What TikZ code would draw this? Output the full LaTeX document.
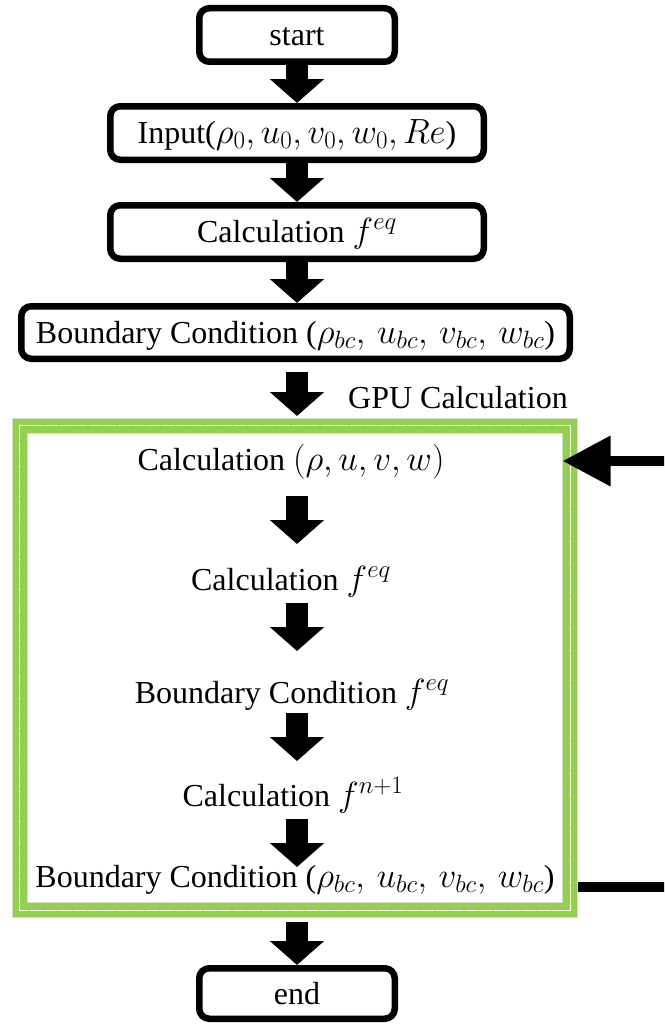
\documentclass[tikz,border=0pt]{standalone}
\usepackage{fix-cm}
\usepackage{fontspec}
\setmainfont{Liberation Serif}
\newfontfamily\tnr{Liberation Serif}
\DeclareMathSizes{32}{35}{25}{18}
\usetikzlibrary{arrows.meta}
\definecolor{gpugreen}{RGB}{146,208,80}
\definecolor{dotyellow}{RGB}{235,225,120}
\begin{document}
\begin{tikzpicture}[x=1pt,y=-1pt,
  font=\tnr\fontsize{32}{36}\selectfont,
  box/.style={draw, line width=6.5pt, rounded corners=10pt, minimum height=53.5pt,
              inner sep=0pt, fill=white, text height=25pt, text depth=4pt},
  blk/.style={line width=22pt, -{Triangle[width=53pt,length=24pt]}},
  txt/.style={inner sep=0pt, anchor=base, text height=25pt, text depth=8pt},
  loopline/.style={line width=10pt, -{Triangle[width=48pt,length=48pt]}}]
\useasboundingbox (0,0) rectangle (664,1025);
\clip (0,0) rectangle (664,1025);

% top chain of boxes
\node[box, minimum width=195.5pt] (start) at (297,35) {start};
\node[box, minimum width=373.5pt] (inp) at (297,133) {Input($\rho_0, u_0, v_0, w_0, Re$)};
\node[box, minimum width=373.5pt] (calc) at (297,232) {Calculation $f^{eq}$};
\node[box, minimum width=548.5pt, minimum height=52.5pt] (bc) at (295.5,332.5)
  {Boundary Condition ($\rho_{bc},\, u_{bc},\, v_{bc},\, w_{bc}$)};

% GPU frame
\node[draw=gpugreen, line width=15pt, minimum width=550.5pt, minimum height=484.5pt,
      inner sep=0pt] (gpu) at (294.75,667.75) {};
\draw[white, line width=0.9pt] (19.5,425.5) rectangle (570,910);
\draw[dotyellow, line width=0.9pt, dash pattern=on 1.5pt off 13pt] (19.5,425.5) rectangle (570,910);
\draw[gray!30, line width=0.7pt] (12,418) rectangle (577.5,917.5);
\draw[gray!30, line width=0.7pt] (27,433) rectangle (562.5,902.5);
\node[anchor=base west, inner sep=0pt] (gpulbl) at (348,408) {GPU Calculation};

% inner steps
\node[txt] (t1) at (291,470) {Calculation $(\rho, u, v, w)$};
\node[txt] (t2) at (291,590) {Calculation $f^{eq}$};
\node[txt] (t3) at (292,703) {Boundary Condition $f^{eq}$};
\node[txt] (t4) at (293,806) {Calculation $f^{n+1}$};
\node[txt] (t5) at (295,887) {Boundary Condition ($\rho_{bc},\, u_{bc},\, v_{bc},\, w_{bc}$)};

\node[box, minimum width=195.5pt, minimum height=50.5pt] (end) at (297,993.5) {end};

% block arrows
\draw[blk] (start.south) -- (inp.north);
\draw[blk] (inp.south) -- (calc.north);
\draw[blk] (calc.south) -- (calc.south |- bc.north);
\draw[blk, shorten <=10pt, shorten >=2pt] (bc.south -| start.south) -- (start.south |- gpu.north);
\draw[blk] ([yshift=-26pt]t1.base -| start.south) -- ([yshift=46pt]t2.base -| start.south);
\draw[blk] ([yshift=-13pt]t2.base -| start.south) -- ([yshift=52pt]t3.base -| start.south);
\draw[blk] ([yshift=-10pt]t3.base -| start.south) -- ([yshift=45pt]t4.base -| start.south);
\draw[blk] ([yshift=-13pt]t4.base -| start.south) -- ([yshift=20pt]t5.base -| start.south);
\draw[blk, shorten <=4pt] (end.north |- gpu.south) -- (end.north);

% loop back
\coordinate (loopin) at ([xshift=-15pt,yshift=9pt]gpu.east |- t1.base);
\draw[loopline] (gpu.east |- t5.base) -- ++(120,0) |- (loopin);
\end{tikzpicture}
\end{document}
